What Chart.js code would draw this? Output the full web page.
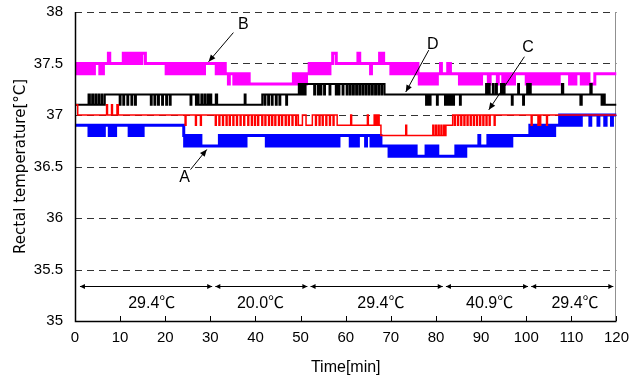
<!DOCTYPE html>
<html><head><meta charset="utf-8">
<script src="https://cdn.jsdelivr.net/npm/chart.js@4.4.1/dist/chart.umd.min.js"></script>
<style>html,body{margin:0;padding:0;background:#fff;}</style>
</head><body>
<canvas id="c" width="629" height="382"></canvas>
<script>
// ---- axis settings / tick values ----
const xMin = 0, xMax = 120, xStep = 10;
const yMin = 35, yMax = 38, yStep = 0.5;
const yGridValues = [35.5, 36, 36.5, 37, 37.5, 38];

// ---- series: [time (min), rectal temperature (°C)] step breakpoints ----
const seriesB = [ // magenta
[0,37.5],[0.2,37.4],[0.5,37.5],[0.9,37.4],[1.3,37.5],[1.7,37.4],[1.9,37.5],[2.3,37.4],[2.5,37.5],[3.0,37.4],[3.2,37.5],[3.5,37.4],[3.7,37.5],[4.1,37.4],[4.3,37.5],[5.5,37.4],[5.7,37.5],[6.1,37.4],[6.3,37.5],
[7.4,37.6],[7.7,37.5],
[10.7,37.6],[11.0,37.5],[11.2,37.6],[11.5,37.5],[11.7,37.6],[12.0,37.5],[12.2,37.6],[12.6,37.5],[12.8,37.6],[13.3,37.5],[13.5,37.6],[14.0,37.5],[14.2,37.6],[14.6,37.5],[14.8,37.6],[15.6,37.5],
[20.2,37.4],[20.4,37.5],[20.7,37.4],[21.1,37.5],[21.4,37.4],[21.6,37.5],[22.0,37.4],[22.3,37.5],[22.7,37.4],[22.9,37.5],[23.3,37.4],[23.5,37.5],[23.9,37.4],[24.3,37.5],[24.7,37.4],[24.9,37.5],[25.3,37.4],[25.6,37.5],[26.0,37.4],[26.2,37.5],[26.6,37.4],[26.9,37.5],[27.3,37.4],[27.5,37.5],[28.0,37.4],[28.2,37.5],[28.5,37.4],[28.7,37.5],
[31.3,37.4],[31.5,37.5],[32.0,37.4],[32.2,37.5],[32.7,37.4],[32.9,37.5],[33.3,37.4],
[34.0,37.3],[34.2,37.4],
[35.2,37.3],[35.4,37.4],[35.7,37.3],[36.0,37.4],[36.2,37.3],[36.6,37.4],[36.8,37.3],[37.2,37.4],[37.4,37.3],[37.8,37.4],[38.0,37.3],[38.4,37.4],[38.6,37.3],
[48.4,37.4],[48.6,37.3],[49.0,37.4],[49.2,37.3],[49.6,37.4],[49.9,37.3],[50.2,37.4],[50.4,37.3],[50.8,37.4],[51.0,37.3],[51.3,37.4],
[51.9,37.5],[52.1,37.4],[52.4,37.5],[52.7,37.4],[52.9,37.5],[53.3,37.4],[53.5,37.5],[53.9,37.4],[54.1,37.5],[54.5,37.4],[54.7,37.5],[55.1,37.4],[55.3,37.5],[55.7,37.4],[55.9,37.5],[56.3,37.4],[56.5,37.5],
[57.1,37.6],[57.9,37.5],
[62.7,37.6],[63.1,37.5],[65.5,37.4],[65.7,37.5],[67.5,37.6],[67.8,37.5],[68.0,37.6],[68.4,37.5],
[70.0,37.4],[70.2,37.5],[70.6,37.4],[70.8,37.5],[71.2,37.4],[71.5,37.5],[71.8,37.4],[72.0,37.5],[72.4,37.4],[72.7,37.5],[73.0,37.4],[73.2,37.5],[73.6,37.4],[73.9,37.5],[74.2,37.4],[74.4,37.5],[74.8,37.4],[75.1,37.5],[75.4,37.4],[75.6,37.5],[76.0,37.4],
[76.3,37.3],[76.5,37.4],[76.9,37.3],[77.1,37.4],[77.5,37.3],[77.7,37.4],[78.1,37.3],[78.4,37.4],[78.8,37.3],[79.0,37.4],[79.4,37.3],[79.6,37.4],[80.1,37.3],[80.3,37.4],
[81.0,37.5],[81.2,37.4],[82.6,37.5],[82.8,37.4],[83.0,37.5],[83.2,37.4],
[85.2,37.3],[85.4,37.4],[85.8,37.3],[86.0,37.4],[86.4,37.3],[86.7,37.4],[87.0,37.3],[87.2,37.4],[87.6,37.3],[87.8,37.4],[88.2,37.3],[88.5,37.4],[88.8,37.3],[89.0,37.4],[89.4,37.3],[89.6,37.4],[89.9,37.3],[90.1,37.4],
[91.6,37.3],[92.0,37.4],[93.6,37.3],[93.8,37.4],
[94.8,37.3],[95.0,37.4],[95.4,37.3],[95.6,37.4],[96.0,37.3],[96.3,37.4],[96.6,37.3],[96.8,37.4],[97.2,37.3],[97.4,37.4],
[100.0,37.3],[100.2,37.4],[100.6,37.3],[100.8,37.4],[101.2,37.3],[101.5,37.4],[101.8,37.3],[102.0,37.4],[102.4,37.3],[102.6,37.4],[103.0,37.3],[103.3,37.4],[103.6,37.3],[103.8,37.4],[104.2,37.3],[104.4,37.4],[104.8,37.3],[105.1,37.4],[105.4,37.3],[105.6,37.4],[106.0,37.3],[106.2,37.4],[106.6,37.3],[106.9,37.4],[107.1,37.3],[107.3,37.4],
[109.6,37.3],[109.8,37.4],[110.2,37.3],[110.4,37.4],[110.8,37.3],[111.0,37.4],
[112.2,37.3],[112.4,37.4],[112.8,37.3],[113.0,37.4],[113.4,37.3],[113.6,37.4],[113.9,37.3],
[115.2,37.4],[120,37.4]
];

const seriesD = [ // black
[0,37.1],[3.0,37.2],[3.3,37.1],[3.8,37.2],[4.0,37.1],[4.5,37.2],[4.7,37.1],[5.2,37.2],[5.4,37.1],[5.9,37.2],[6.1,37.1],[6.6,37.2],
[9.9,37.1],[10.1,37.2],[10.7,37.1],[10.9,37.2],[11.6,37.1],[11.8,37.2],[12.5,37.1],[12.7,37.2],[13.3,37.1],[13.5,37.2],
[16.8,37.1],[17.0,37.2],[17.6,37.1],[17.8,37.2],[18.4,37.1],[18.6,37.2],[19.3,37.1],[19.5,37.2],
[20.2,37.1],[20.4,37.2],[21.0,37.1],[21.2,37.2],
[25.6,37.1],[25.8,37.2],[26.8,37.1],[27.0,37.2],[27.4,37.1],
[28.0,37.2],[28.2,37.1],[28.7,37.2],[28.9,37.1],[29.4,37.2],[29.6,37.1],[30.0,37.2],[30.2,37.1],
[31.2,37.2],[31.5,37.1],[37.6,37.2],[37.8,37.1],
[41.5,37.2],[42.0,37.1],[42.2,37.2],[42.8,37.1],[43.0,37.2],[43.6,37.1],[43.8,37.2],[44.5,37.1],[44.7,37.2],[45.3,37.1],[45.5,37.2],[46.8,37.1],[47.0,37.2],
[49.6,37.3],[49.8,37.2],[50.1,37.3],[50.3,37.2],[50.6,37.3],[50.9,37.2],[51.1,37.3],
[53.0,37.2],[53.2,37.3],[53.8,37.2],[54.0,37.3],[54.4,37.2],[54.6,37.3],[55.2,37.2],[55.4,37.3],[56.4,37.2],[56.6,37.3],[57.8,37.2],[58.0,37.3],[58.4,37.2],[58.6,37.3],[59.3,37.2],[59.5,37.3],
[60.2,37.2],[60.4,37.3],[60.9,37.2],[61.1,37.3],[61.6,37.2],[61.8,37.3],[62.3,37.2],[62.5,37.3],[63.0,37.2],[63.2,37.3],[63.7,37.2],[63.9,37.3],[64.4,37.2],[64.6,37.3],[65.1,37.2],[65.3,37.3],[65.8,37.2],[66.0,37.3],[66.5,37.2],[66.7,37.3],[67.2,37.2],[67.4,37.3],[67.9,37.2],[68.1,37.3],[68.6,37.2],
[77.8,37.1],[78.0,37.2],[78.2,37.1],[78.4,37.2],[78.6,37.1],[78.8,37.2],
[80.2,37.1],[80.4,37.2],[82.0,37.1],[82.2,37.2],[82.6,37.1],[82.8,37.2],[83.2,37.1],[83.4,37.2],[83.8,37.1],[84.0,37.2],[85.3,37.1],[85.5,37.2],
[91.1,37.3],[91.3,37.2],[91.7,37.3],[91.9,37.2],[92.6,37.3],[92.8,37.2],[93.3,37.3],[93.5,37.2],[94.4,37.3],[94.6,37.2],[95.0,37.3],[95.2,37.2],
[96.8,37.1],[97.0,37.2],[98.2,37.3],[98.4,37.2],[99.3,37.1],[99.5,37.2],[100.2,37.3],[100.4,37.2],[100.8,37.3],[101.0,37.2],
[107.9,37.3],[108.2,37.2],[112.0,37.1],[112.3,37.2],[114.2,37.3],[114.5,37.2],
[116.7,37.1],[116.9,37.2],[117.1,37.1],[117.3,37.2],[117.4,37.1],[120,37.1]
];

const seriesC = [ // red
[0,37.1],[0.6,37.0],[7.0,37.1],[7.2,37.0],[8.1,37.1],[8.3,37.0],[9.3,37.1],[9.6,37.0],
[24.4,36.9],[24.6,37.0],[26.7,36.9],[26.9,37.0],[27.8,36.9],[28.0,37.0],
[31.1,36.9],[31.3,37.0],[31.9,36.9],[32.1,37.0],[32.7,36.9],[32.9,37.0],[33.5,36.9],[33.7,37.0],[34.2,36.9],[34.4,37.0],[35.0,36.9],[35.2,37.0],[35.8,36.9],[36.0,37.0],[36.6,36.9],[36.8,37.0],[37.4,36.9],[37.6,37.0],[38.3,36.9],[38.5,37.0],[39.1,36.9],[39.3,37.0],[39.8,36.9],[40.0,37.0],[40.5,36.9],[40.7,37.0],[41.4,36.9],[41.6,37.0],[42.1,36.9],[42.3,37.0],[42.9,36.9],[43.1,37.0],[43.6,36.9],[43.8,37.0],[44.3,36.9],[44.5,37.0],[45.1,36.9],[45.3,37.0],[45.8,36.9],[46.0,37.0],[46.6,36.9],[46.8,37.0],[47.3,36.9],[47.5,37.0],[48.1,36.9],[48.3,37.0],[48.9,36.9],[49.1,37.0],
[49.5,36.9],[50.4,37.0],[51.2,36.9],[52.6,37.0],
[53.3,36.9],[53.5,37.0],[54.1,36.9],[54.3,37.0],[54.8,36.9],[55.0,37.0],[55.6,36.9],[55.8,37.0],[56.4,36.9],[56.6,37.0],[57.2,36.9],[57.4,37.0],[58.1,36.9],
[61.1,37.0],[61.3,36.9],[64.8,37.0],[65.0,36.9],[66.3,37.0],[66.5,36.9],[66.8,37.0],[67.0,36.9],[67.2,37.0],[67.4,36.9],
[67.8,36.8],[73.3,36.9],[73.5,36.8],
[79.3,36.9],[79.5,36.8],[79.9,36.9],[80.1,36.8],[80.5,36.9],[80.7,36.8],[81.1,36.9],[81.3,36.8],[81.7,36.9],[81.9,36.8],[82.2,36.9],
[83.7,37.0],[84.1,36.9],[84.3,37.0],[84.8,36.9],[85.0,37.0],[85.5,36.9],[85.7,37.0],[86.2,36.9],[86.4,37.0],[86.9,36.9],[87.1,37.0],[87.6,36.9],[87.8,37.0],[88.3,36.9],[88.5,37.0],[89.0,36.9],[89.2,37.0],[89.7,36.9],[89.9,37.0],[90.4,36.9],[90.6,37.0],[91.1,36.9],[91.3,37.0],[91.8,36.9],[92.0,37.0],[92.9,36.9],[93.1,37.0],
[101.1,36.9],[101.3,37.0],[102.6,36.9],[102.8,37.0],[103.0,36.9],[103.2,37.0],[104.5,36.9],[104.7,37.0],[120,37.0]
];

const seriesA = [ // blue
[0,36.9],[3.1,36.8],[3.4,36.9],[3.9,36.8],[4.1,36.9],[4.7,36.8],[4.9,36.9],[5.5,36.8],[5.7,36.9],[6.3,36.8],[6.5,36.9],[7.6,36.8],[8.2,36.9],[8.8,36.8],[9.0,36.9],
[12.0,36.8],[12.2,36.9],[12.5,36.8],[12.7,36.9],[13.0,36.8],[13.2,36.9],[13.5,36.8],[13.7,36.9],[14.0,36.8],[14.2,36.9],[14.5,36.8],[14.7,36.9],[14.9,36.8],[15.1,36.9],
[24.1,36.8],[24.3,36.7],[24.5,36.8],[24.9,36.7],[25.1,36.8],[25.5,36.7],[25.7,36.8],[26.1,36.7],[26.3,36.8],[26.7,36.7],[26.9,36.8],[27.3,36.7],[27.5,36.8],[27.9,36.7],
[32.0,36.8],[32.3,36.7],[32.6,36.8],[32.9,36.7],[33.2,36.8],[33.5,36.7],[33.8,36.8],[34.1,36.7],[34.4,36.8],[34.7,36.7],[35.0,36.8],[35.3,36.7],[35.6,36.8],[35.9,36.7],[36.2,36.8],[36.5,36.7],[36.8,36.8],[37.1,36.7],[37.4,36.8],[37.7,36.7],[37.9,36.8],
[42.4,36.7],[42.8,36.8],[43.2,36.7],[43.6,36.8],[44.0,36.7],[44.4,36.8],[44.7,36.7],[45.1,36.8],[45.5,36.7],[45.9,36.8],[46.2,36.7],[46.6,36.8],[47.0,36.7],[47.4,36.8],[47.7,36.7],[48.1,36.8],[48.5,36.7],[48.9,36.8],[49.2,36.7],[49.6,36.8],[50.0,36.7],[50.4,36.8],[50.7,36.7],[51.1,36.8],[51.5,36.7],[51.9,36.8],[52.2,36.7],[52.6,36.8],[53.0,36.7],[53.3,36.8],[53.7,36.7],[54.1,36.8],[54.5,36.7],[54.8,36.8],[55.2,36.7],[55.6,36.8],[56.0,36.7],[56.3,36.8],[56.7,36.7],[57.1,36.8],[57.4,36.7],[57.8,36.8],[58.2,36.7],[58.5,36.8],
[61.0,36.7],[61.3,36.8],[61.7,36.7],[62.0,36.8],[62.4,36.7],[62.8,36.8],[64.4,36.7],[64.6,36.8],
[65.6,36.7],[66.0,36.8],[66.3,36.7],[66.7,36.8],[67.0,36.7],[67.4,36.8],[67.8,36.7],
[69.6,36.6],[70.0,36.7],[70.3,36.6],[70.7,36.7],[71.1,36.6],[71.4,36.7],[71.8,36.6],[72.2,36.7],[72.5,36.6],[72.9,36.7],[73.3,36.6],[73.6,36.7],[74.0,36.6],[74.4,36.7],[74.8,36.6],[75.1,36.7],[75.6,36.6],
[77.8,36.7],[78.2,36.6],[78.6,36.7],[78.9,36.6],[79.3,36.7],[79.7,36.6],[80.0,36.7],[80.4,36.6],
[84.4,36.7],[84.8,36.6],[85.1,36.7],[85.5,36.6],[85.9,36.7],[86.2,36.6],[86.6,36.7],
[89.5,36.8],[89.7,36.7],
[91.5,36.8],[91.9,36.7],[92.3,36.8],[92.7,36.7],[93.0,36.8],[93.4,36.7],[93.8,36.8],[94.2,36.7],[94.5,36.8],[94.9,36.7],[95.3,36.8],[95.7,36.7],[96.0,36.8],[96.4,36.7],[96.8,36.8],
[100.8,36.9],[101.2,36.8],[101.6,36.9],[102.0,36.8],[102.4,36.9],[102.8,36.8],[103.2,36.9],[103.6,36.8],[104.0,36.9],[104.4,36.8],[104.8,36.9],[105.2,36.8],[105.6,36.9],[106.0,36.8],[106.3,36.9],
[107.4,37.0],[107.8,36.9],[108.2,37.0],[108.6,36.9],[109.0,37.0],[109.4,36.9],[109.8,37.0],[110.2,36.9],[110.6,37.0],[111.0,36.9],[111.4,37.0],[111.8,36.9],[112.2,37.0],
[114.1,36.9],[114.3,37.0],[115.9,36.9],[116.1,37.0],[117.4,36.9],[117.7,37.0],[118.9,36.9],[119.1,37.0],[120,37.0]
];

// ---- ambient temperature periods ----
const periodStart  = [1.1, 31.1, 52.2, 82.2, 101.1];
const periodEnd    = [30.4, 51.5, 81.5, 100.4, 119.3];
const periodLabels = ['29.4℃', '20.0℃', '29.4℃', '40.9℃', '29.4℃'];
const periodLabelX = [17.0, 41.1, 67.8, 91.9, 110.8];
const periodArrowY = 35.343;
const periodLabelY = 35.17;

// ---- series markers ----
const markerNames  = ['A', 'B', 'C', 'D'];
const markerLabelX = [24.3, 37.3, 100.4, 79.3];
const markerLabelY = [36.39, 37.875, 37.65, 37.685];
const markerTailX  = [25.6, 35.1, 99.6, 78.4];
const markerTailY  = [36.47, 37.80, 37.566, 37.63];
const markerTipX   = [29.2, 29.6, 91.7, 73.3];
const markerTipY   = [36.665, 37.517, 37.05, 37.223];

const FONT = "'Liberation Sans', Arial, 'Noto Sans CJK JP', sans-serif";
Chart.defaults.font.family = FONT;
Chart.defaults.color = '#000';

function toPts(s){ return s.map(p => ({x:p[0], y:p[1]})); }

function head(ctx, tx, ty, fx, fy, len, half){
  const dx = tx - fx, dy = ty - fy, d = Math.hypot(dx, dy) || 1;
  const ux = dx/d, uy = dy/d;
  const bx = tx - ux*len, by = ty - uy*len;
  ctx.beginPath();
  ctx.moveTo(tx, ty);
  ctx.lineTo(bx - uy*half, by + ux*half);
  ctx.lineTo(bx + uy*half, by - ux*half);
  ctx.closePath();
  ctx.fill();
}

const overlay = {
  id: 'overlay',
  beforeDatasetsDraw(chart){
    const {ctx, chartArea:a, scales:{x, y}} = chart;
    ctx.save();
    ctx.strokeStyle = '#333'; ctx.lineWidth = 1; ctx.setLineDash([7,5]);
    yGridValues.forEach(v => {
      const py = Math.round(y.getPixelForValue(v)) + 0.5;
      ctx.beginPath(); ctx.moveTo(a.left, py); ctx.lineTo(a.right, py); ctx.stroke();
    });
    ctx.setLineDash([]);
    ctx.strokeStyle = '#909090';
    const rx = Math.round(a.right) - 0.5;
    ctx.beginPath(); ctx.moveTo(rx, a.top); ctx.lineTo(rx, a.bottom); ctx.stroke();
    ctx.restore();
  },
  afterDatasetsDraw(chart){
    const {ctx, chartArea:a, scales:{x, y}} = chart;
    ctx.save();
    ctx.strokeStyle = '#000'; ctx.lineWidth = 1.5;
    ctx.beginPath(); ctx.moveTo(a.left + 0.5, a.top); ctx.lineTo(a.left + 0.5, a.bottom + 0.5); ctx.lineTo(a.right, a.bottom + 0.5); ctx.stroke();
    ctx.lineWidth = 1;
    for (let v = xMin; v <= xMax; v += xStep){
      const px = Math.round(x.getPixelForValue(v)) + 0.5;
      ctx.beginPath(); ctx.moveTo(px, a.bottom); ctx.lineTo(px, a.bottom - 5); ctx.stroke();
    }
    ctx.fillStyle = '#000';
    const py = Math.round(y.getPixelForValue(periodArrowY)) + 0.5;
    periodStart.forEach((s, i) => {
      const x1 = x.getPixelForValue(s), x2 = x.getPixelForValue(periodEnd[i]);
      ctx.beginPath(); ctx.moveTo(x1, py); ctx.lineTo(x2, py); ctx.stroke();
      head(ctx, x1, py, x2, py, 5, 2.5);
      head(ctx, x2, py, x1, py, 5, 2.5);
    });
    ctx.font = '16px ' + FONT;
    ctx.textAlign = 'center'; ctx.textBaseline = 'middle';
    periodLabels.forEach((t, i) => {
      ctx.fillText(t, x.getPixelForValue(periodLabelX[i]), y.getPixelForValue(periodLabelY));
    });
    markerNames.forEach((n, i) => {
      const tx = x.getPixelForValue(markerTipX[i]), ty = y.getPixelForValue(markerTipY[i]);
      const fx = x.getPixelForValue(markerTailX[i]), fy = y.getPixelForValue(markerTailY[i]);
      ctx.beginPath(); ctx.moveTo(fx, fy); ctx.lineTo(tx, ty); ctx.stroke();
      head(ctx, tx, ty, fx, fy, 7, 3);
      ctx.fillText(n, x.getPixelForValue(markerLabelX[i]), y.getPixelForValue(markerLabelY[i]));
    });
    ctx.restore();
  }
};

new Chart(document.getElementById('c'), {
  type: 'line',
  data: {
    datasets: [
      {data: toPts(seriesC), borderColor: '#ff0000', borderWidth: 1.5},
      {data: toPts(seriesD), borderColor: '#000000', borderWidth: 2},
      {data: toPts(seriesB), borderColor: '#ff00ff', borderWidth: 3},
      {data: toPts(seriesA), borderColor: '#0000ff', borderWidth: 3}
    ].map(d => Object.assign(d, {stepped: 'before', pointRadius: 0, fill: false, tension: 0}))
  },
  options: {
    responsive: false,
    animation: false,
    devicePixelRatio: 1,
    layout: {padding: {top: 12, right: 6, left: 0, bottom: 0}},
    plugins: {legend: {display: false}, tooltip: {enabled: false}},
    scales: {
      x: {
        type: 'linear', min: xMin, max: xMax,
        ticks: {stepSize: xStep, padding: 0, font: {size: 15}, color: '#000', maxRotation: 0},
        grid: {display: false}, border: {display: false},
        title: {display: true, text: 'Time[min]', font: {size: 16}, padding: {top: 0, bottom: 5}},
        afterFit: s => { s.height = 61; }
      },
      y: {
        type: 'linear', min: yMin, max: yMax,
        ticks: {stepSize: yStep, padding: 2, font: {size: 15}, color: '#000', callback: v => String(+v.toFixed(1))},
        grid: {display: true, drawOnChartArea: false, drawTicks: true, tickLength: 10, color: 'rgba(0,0,0,0)'},
        border: {display: false},
        title: {display: true, text: 'Rectal temperature[°C]', font: {size: 15, family: "'DejaVu Sans', sans-serif"}, padding: {top: 12, bottom: 0}},
        afterFit: s => { s.width = 75; }
      }
    }
  },
  plugins: [overlay]
});
</script>
</body></html>
